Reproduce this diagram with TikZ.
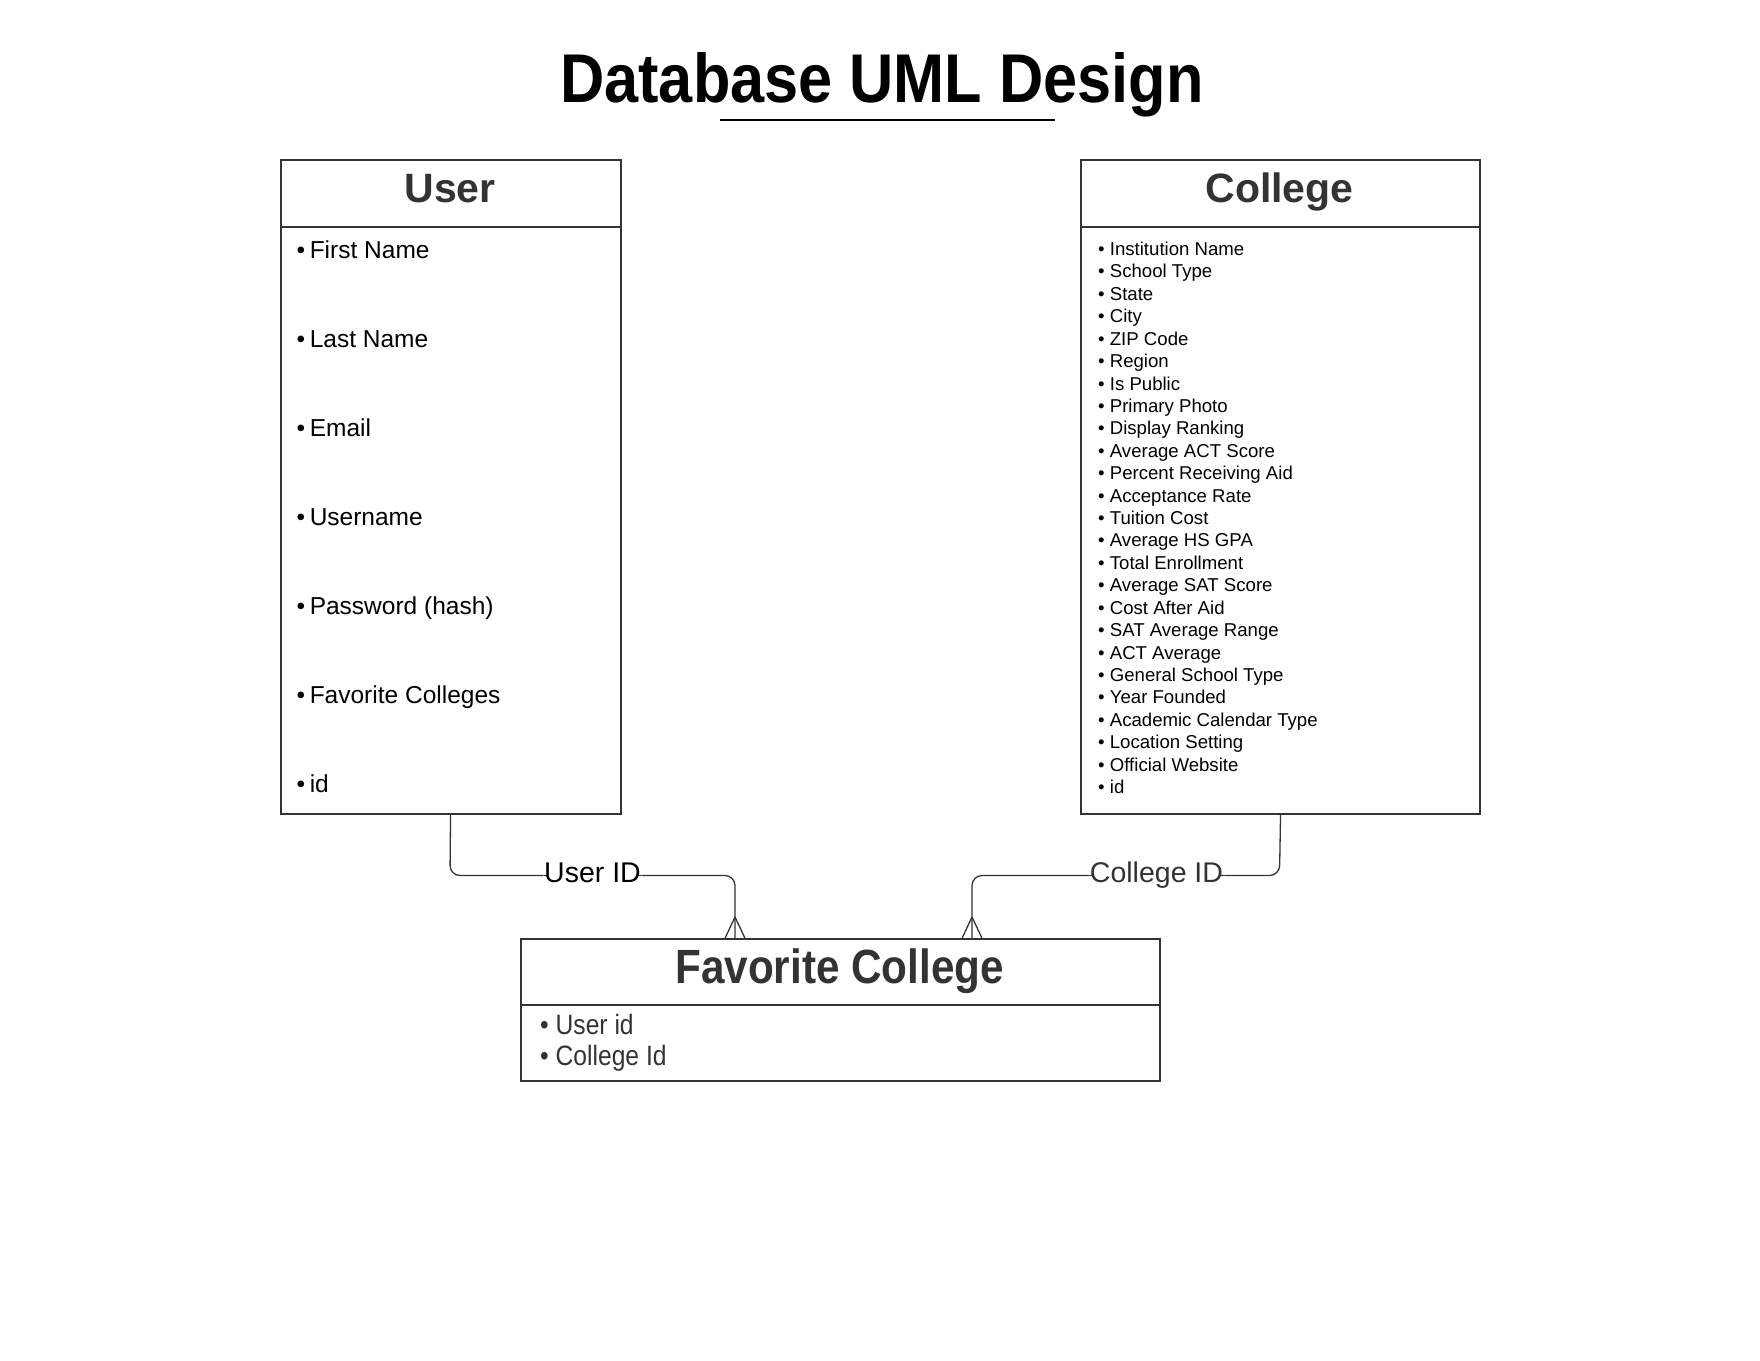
\documentclass[tikz,border=0pt]{standalone}
\usepackage{fontspec}
\setmainfont{Liberation Sans}
\newfontfamily\narrowfont[FakeStretch=0.88]{Liberation Sans}
\newfontfamily\titlefont[FakeStretch=0.888]{Liberation Sans}
\definecolor{dk}{HTML}{333333}
\begin{document}
\begin{tikzpicture}[x=1pt,y=-1pt,
  box/.style={draw=dk, line width=2pt, anchor=north west, inner sep=0pt},
  divider/.style={draw=dk, line width=2pt},
  conn/.style={draw=dk, line width=1.3pt, rounded corners=10pt},
  foot/.style={draw=dk, line width=1.3pt},
  hdr/.style={anchor=base, inner sep=0pt, text=dk, font=\fontsize{41}{41}\selectfont\bfseries},
  uitem/.style={anchor=base west, inner sep=0pt, text=black, font=\fontsize{24.5}{24.5}\selectfont},
  citem/.style={anchor=base west, inner sep=0pt, text=black, font=\fontsize{18.6}{18.6}\selectfont},
  fitem/.style={anchor=base west, inner sep=0pt, text=dk, font=\narrowfont\fontsize{28}{28}\selectfont},
  lbl/.style={fill=white, inner xsep=1pt, inner ysep=2pt, text height=0.72em, text depth=0pt, font=\fontsize{28.5}{28.5}\selectfont}
]
\useasboundingbox[fill=white] (0,0) rectangle (1760,1360);

% title
\node[anchor=base, inner sep=0pt, font=\titlefont\fontsize{69}{69}\selectfont\bfseries] (title) at (882,102.5) {Database UML Design};
\coordinate (ulA) at (720,119.5);
\coordinate (ulB) at (1055,119.5);
\draw[line width=2pt, black] (ulA) -- (ulB);

% User box
\node[box, minimum width=340.1pt, minimum height=653.2pt] (user) at (279.5,159.4) {};
\draw[divider] (279.5,226.7) -- (619.6,226.7);
\node[hdr] (userh) at (450,202.5) {User};
\node[uitem] (u1) at (296.5,258.8) {•\hspace{4.5pt}First Name};
\node[uitem] (u2) at (296.5,347.7) {•\hspace{4.5pt}Last Name};
\node[uitem] (u3) at (296.5,436.6) {•\hspace{4.5pt}Email};
\node[uitem] (u4) at (296.5,525.5) {•\hspace{4.5pt}Username};
\node[uitem] (u5) at (296.5,614.4) {•\hspace{4.5pt}Password (hash)};
\node[uitem] (u6) at (296.5,703.3) {•\hspace{4.5pt}Favorite Colleges};
\node[uitem] (u7) at (296.5,792.2) {•\hspace{4.5pt}id};

% College box
\node[box, minimum width=399.5pt, minimum height=653.2pt] (college) at (1079.8,159.4) {};
\draw[divider] (1079.8,226.7) -- (1479.3,226.7);
\node[hdr] (collegeh) at (1279.5,202.5) {College};
\foreach \t [count=\i from 0] in {Institution Name, School Type, State, City, ZIP Code, Region, Is Public, Primary Photo, Display Ranking, Average ACT Score, Percent Receiving Aid, Acceptance Rate, Tuition Cost, Average HS GPA, Total Enrollment, Average SAT Score, Cost After Aid, SAT Average Range, ACT Average, General School Type, Year Founded, Academic Calendar Type, Location Setting, Official Website, id}
  \node[citem] (c\i) at (1098,255.5+22.42*\i) {• \t};

% Favorite College box
\node[box, minimum width=639.7pt, minimum height=141.4pt] (fav) at (519.7,938.3) {};
\draw[divider] (519.7,1004.6) -- (1159.4,1004.6);
\node[anchor=base, inner sep=0pt, text=dk, font=\narrowfont\fontsize{48}{48}\selectfont\bfseries] (favh) at (839.6,983.6) {Favorite College};
\node[fitem] (f1) at (540,1034.7) {• User id};
\node[fitem] (f2) at (540,1065) {• College Id};

% connectors
\coordinate (fu) at (735,938.3);
\coordinate (fc) at (972,938.3);
\coordinate (fuapex) at (735,917);
\coordinate (fcapex) at (972,917);
\draw[conn] (user.south) -- (450,875.5) -- node[lbl, text=black, pos=0.5, yshift=-3.5pt] {User ID} (735,875.5) -- (fu);
\draw[conn] (college.south) -- (1279.5,875.5) -- node[lbl, text=dk, pos=0.4, yshift=-3.5pt] {College ID} (972,875.5) -- (fc);
\draw[foot] (fuapex) -- ++(-10,21.3);
\draw[foot] (fuapex) -- ++(10,21.3);
\draw[foot] (fcapex) -- ++(-10,21.3);
\draw[foot] (fcapex) -- ++(10,21.3);
\end{tikzpicture}
\end{document}
